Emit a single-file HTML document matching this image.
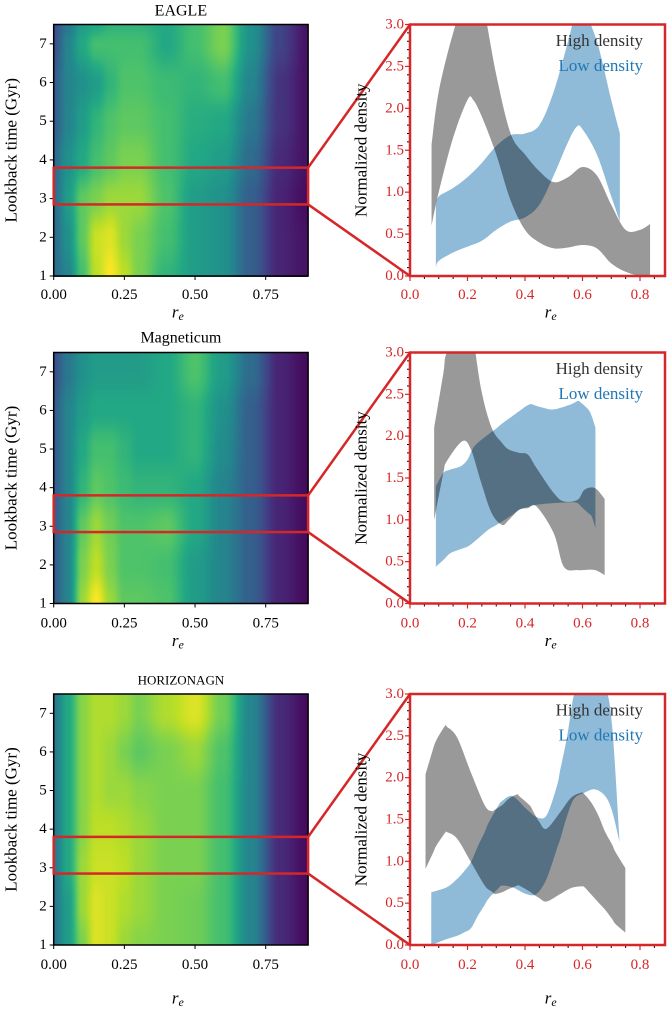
<!DOCTYPE html>
<html><head><meta charset="utf-8"><style>
body{margin:0;background:#fff;}
#wrap{position:relative;width:667px;height:1009px;overflow:hidden;font-family:"Liberation Serif",serif;}
canvas{position:absolute;}
svg{position:absolute;left:0;top:0;font-family:"Liberation Serif",serif;}
svg text{font-family:"Liberation Serif",serif;}
</style></head><body>
<div id="wrap">
<canvas id="h0"></canvas>
<canvas id="h1"></canvas>
<canvas id="h2"></canvas>
<svg id="svg" width="667" height="1009" xmlns="http://www.w3.org/2000/svg" font-family="Liberation Serif, serif"></svg>
</div>
<script>
// ---- data ----
const titles = ["EAGLE","Magneticum","HORIZONAGN"];
const heatCols = [0,0.05,0.1,0.15,0.2,0.25,0.3,0.4,0.5,0.6,0.7,0.8,0.9];
const heatRows = [1,2,3,4,5,6,7,7.5];
const heatEagle = [
[0.35,0.45,0.7,0.9,1.0,0.9,0.8,0.65,0.55,0.5,0.3,0.1,0.05],
[0.35,0.5,0.75,0.92,0.95,0.85,0.8,0.7,0.55,0.5,0.3,0.1,0.05],
[0.35,0.55,0.75,0.8,0.85,0.85,0.85,0.72,0.55,0.5,0.3,0.1,0.03],
[0.35,0.5,0.6,0.7,0.75,0.8,0.8,0.7,0.6,0.55,0.35,0.12,0.05],
[0.3,0.45,0.55,0.65,0.72,0.75,0.75,0.7,0.62,0.6,0.4,0.15,0.05],
[0.3,0.45,0.5,0.55,0.65,0.72,0.72,0.68,0.65,0.7,0.45,0.15,0.05],
[0.25,0.45,0.6,0.7,0.7,0.7,0.7,0.6,0.7,0.8,0.5,0.2,0.05],
[0.25,0.4,0.55,0.6,0.65,0.65,0.65,0.6,0.7,0.8,0.5,0.2,0.05]];
const heatMagneticum = [
[0.3,0.45,0.85,1.0,0.85,0.75,0.75,0.72,0.55,0.45,0.3,0.1,0.03],
[0.3,0.45,0.8,0.9,0.8,0.72,0.72,0.7,0.55,0.45,0.3,0.1,0.03],
[0.3,0.45,0.75,0.85,0.78,0.72,0.72,0.75,0.6,0.45,0.3,0.1,0.03],
[0.3,0.45,0.65,0.75,0.72,0.68,0.65,0.65,0.6,0.45,0.3,0.1,0.03],
[0.3,0.45,0.6,0.7,0.7,0.65,0.6,0.6,0.65,0.48,0.3,0.1,0.03],
[0.3,0.45,0.55,0.6,0.6,0.6,0.6,0.6,0.65,0.5,0.3,0.1,0.03],
[0.25,0.4,0.5,0.55,0.55,0.55,0.55,0.6,0.72,0.55,0.35,0.1,0.03],
[0.25,0.4,0.5,0.55,0.55,0.55,0.55,0.6,0.72,0.55,0.35,0.1,0.03]];
const heatHorizon = [
[0.4,0.55,0.8,0.95,0.92,0.85,0.82,0.8,0.78,0.7,0.45,0.12,0.03],
[0.4,0.55,0.85,0.95,0.92,0.88,0.85,0.8,0.78,0.7,0.45,0.12,0.03],
[0.4,0.6,0.85,0.92,0.92,0.9,0.85,0.8,0.8,0.7,0.45,0.12,0.03],
[0.4,0.6,0.82,0.9,0.9,0.88,0.85,0.8,0.8,0.7,0.45,0.12,0.03],
[0.4,0.6,0.82,0.88,0.85,0.85,0.82,0.8,0.8,0.7,0.45,0.12,0.03],
[0.4,0.6,0.82,0.88,0.85,0.8,0.75,0.8,0.85,0.72,0.45,0.12,0.03],
[0.4,0.6,0.82,0.88,0.88,0.85,0.8,0.88,0.95,0.78,0.45,0.12,0.03],
[0.4,0.6,0.82,0.88,0.88,0.85,0.8,0.88,0.95,0.78,0.45,0.12,0.03]];
const heatData = [heatEagle, heatMagneticum, heatHorizon];

// density bands: [x, lower, upper]
const highEagle = [[0.075,0.6,1.57],[0.1,1.0,2.2],[0.15,1.65,2.9],[0.2,2.1,3.4],[0.22,2.1,3.4],[0.25,1.9,3.3],[0.3,1.45,2.4],[0.35,0.9,1.7],[0.4,0.55,1.45],[0.45,0.4,1.25],[0.5,0.33,1.12],[0.55,0.34,1.18],[0.6,0.37,1.3],[0.65,0.33,1.2],[0.7,0.15,0.85],[0.75,0.05,0.55],[0.8,0.0,0.55],[0.835,0.0,0.62]];
const lowEagle = [[0.09,0.1,0.85],[0.1,0.18,0.95],[0.15,0.28,1.05],[0.2,0.35,1.18],[0.25,0.42,1.35],[0.3,0.55,1.55],[0.35,0.65,1.68],[0.4,0.7,1.7],[0.45,0.85,1.8],[0.5,1.2,2.2],[0.55,1.6,2.8],[0.58,1.78,3.2],[0.6,1.75,3.2],[0.65,1.45,2.8],[0.7,0.95,2.1],[0.73,0.65,1.7]];
const highMagneticum = [[0.084,1.0,2.1],[0.116,1.56,2.75],[0.128,1.7,3.0],[0.182,1.94,3.3],[0.212,1.84,3.3],[0.248,1.44,2.55],[0.284,1.08,2.1],[0.32,0.94,1.92],[0.344,1.0,1.84],[0.38,1.12,1.8],[0.41,1.14,1.78],[0.44,1.16,1.62],[0.5,0.84,1.32],[0.535,0.44,1.22],[0.583,0.4,1.24],[0.607,0.4,1.36],[0.643,0.4,1.38],[0.677,0.34,1.25]];
const lowMagneticum = [[0.09,0.44,1.4],[0.116,0.52,1.56],[0.14,0.6,1.6],[0.176,0.65,1.64],[0.2,0.68,1.72],[0.224,0.74,1.88],[0.272,0.88,2.02],[0.296,0.93,2.08],[0.32,0.98,2.15],[0.356,1.06,2.24],[0.38,1.12,2.3],[0.416,1.16,2.38],[0.44,1.18,2.36],[0.463,1.19,2.34],[0.5,1.2,2.32],[0.56,1.21,2.38],[0.583,1.2,2.42],[0.595,1.16,2.4],[0.62,1.08,2.32],[0.632,1.04,2.24],[0.645,0.9,2.1]];
const highHorizon = [[0.054,0.91,2.04],[0.08,1.1,2.34],[0.092,1.19,2.45],[0.122,1.34,2.62],[0.128,1.35,2.61],[0.164,1.27,2.48],[0.212,0.99,2.06],[0.26,0.71,1.67],[0.284,0.64,1.6],[0.296,0.61,1.62],[0.32,0.63,1.67],[0.344,0.67,1.75],[0.373,0.71,1.8],[0.38,0.71,1.78],[0.416,0.64,1.67],[0.428,0.61,1.6],[0.45,0.56,1.47],[0.475,0.52,1.39],[0.523,0.61,1.59],[0.56,0.68,1.76],[0.595,0.7,1.82],[0.607,0.69,1.8],[0.631,0.6,1.7],[0.655,0.51,1.55],[0.679,0.42,1.35],[0.703,0.31,1.2],[0.715,0.25,1.11],[0.749,0.15,0.92]];
const lowHorizon = [[0.074,0.0,0.63],[0.128,0.07,0.69],[0.164,0.11,0.79],[0.188,0.15,0.88],[0.212,0.2,0.99],[0.236,0.35,1.18],[0.26,0.48,1.35],[0.272,0.55,1.45],[0.308,0.68,1.67],[0.32,0.71,1.72],[0.356,0.69,1.78],[0.404,0.61,1.63],[0.44,0.61,1.53],[0.475,0.79,1.55],[0.511,1.15,1.9],[0.523,1.27,2.1],[0.547,1.55,2.5],[0.571,1.75,3.0],[0.607,1.82,3.3],[0.643,1.86,3.3],[0.679,1.78,3.1],[0.703,1.6,2.62],[0.729,1.23,1.23]];
const highBands = [highEagle, highMagneticum, highHorizon];
const lowBands = [lowEagle, lowMagneticum, lowHorizon];
const zoomLo = 2.85, zoomHi = 3.8;
const heatXTicks = [0,0.25,0.5,0.75];
const heatXTickLabels = ["0.00","0.25","0.50","0.75"];
const heatYTicks = [1,2,3,4,5,6,7];
const denXTicks = [0,0.2,0.4,0.6,0.8];
const denXTickLabels = ["0.0","0.2","0.4","0.6","0.8"];
const denYTicks = [0,0.5,1,1.5,2,2.5,3];
const denYTickLabels = ["0.0","0.5","1.0","1.5","2.0","2.5","3.0"];

// ---- layout ----
const rows = [{T:24.5,B:276,tk:19,lb:36,tt:11},{T:352.5,B:603.5,tk:20,lb:37,tt:338},{T:694,B:945,tk:20,lb:53,tt:680}];
const HX0=53.7, HX1=308.1, DX0=410, DXs=287.5;
const RED="#d62728";
const FONT="Liberation Serif, serif";
const hx = v => HX0 + v/0.9*(HX1-HX0);
const dx = v => DX0 + v*DXs;
const NS="http://www.w3.org/2000/svg";
const svg=document.getElementById('svg');
function el(tag, attrs, parent){const e=document.createElementNS(NS,tag);for(const k in attrs)e.setAttribute(k,attrs[k]);(parent||svg).appendChild(e);return e;}
function txt(s, attrs, parent){attrs['font-family']=FONT;const e=el('text',attrs,parent);e.textContent=s;return e;}

// viridis
const vir=[[68,1,84],[72,36,117],[65,68,135],[53,95,141],[42,120,142],[33,145,140],[34,168,132],[68,191,112],[122,209,81],[189,223,38],[253,231,37]];
function vcol(t){t=Math.max(0,Math.min(1,t))*10;const i=Math.min(9,Math.floor(t)),f=t-i;return vir[i].map((c,k)=>c+(vir[i+1][k]-c)*f);}
function sm(f){return f*f*(3-2*f);}
function interp(arr, v){let i=0;while(i<arr.length-2&&v>arr[i+1])i++;let f=(v-arr[i])/(arr[i+1]-arr[i]);f=Math.max(0,Math.min(1,f));return [i,sm(f)];}

function smoothPath(pts){
  let d="M"+pts[0][0]+","+pts[0][1];
  for(let i=0;i<pts.length-1;i++){
    const p0=pts[Math.max(0,i-1)],p1=pts[i],p2=pts[i+1],p3=pts[Math.min(pts.length-1,i+2)];
    const c1=[p1[0]+(p2[0]-p0[0])/6,p1[1]+(p2[1]-p0[1])/6];
    const c2=[p2[0]-(p3[0]-p1[0])/6,p2[1]-(p3[1]-p1[1])/6];
    d+=" C"+c1[0].toFixed(2)+","+c1[1].toFixed(2)+" "+c2[0].toFixed(2)+","+c2[1].toFixed(2)+" "+p2[0].toFixed(2)+","+p2[1].toFixed(2);
  }
  return d;
}

rows.forEach((r,ri)=>{
  const hy = v => r.B - (v-1)/6.5*(r.B-r.T);
  const dy = v => r.B - v/3*(r.B-r.T);
  const cv=document.getElementById('h'+ri);
  const W=Math.round(HX1-HX0), H=Math.round(r.B-r.T);
  cv.width=W;cv.height=H;cv.style.left=HX0+"px";cv.style.top=r.T+"px";
  const ctx=cv.getContext('2d');const img=ctx.createImageData(W,H);const G=heatData[ri];
  for(let py=0;py<H;py++){const t=7.5-(py+0.5)/H*6.5;const [j,fy]=interp(heatRows,t);
    for(let px=0;px<W;px++){const x=(px+0.5)/W*0.9;const [i,fx]=interp(heatCols,x);
      const v=(G[j][i]*(1-fx)+G[j][i+1]*fx)*(1-fy)+(G[j+1][i]*(1-fx)+G[j+1][i+1]*fx)*fy;
      const c=vcol(v);const o=(py*W+px)*4;img.data[o]=c[0];img.data[o+1]=c[1];img.data[o+2]=c[2];img.data[o+3]=255;}}
  ctx.putImageData(img,0,0);

  const g=el('g',{});
  
  
  const tEl=txt(titles[ri],{x:(HX0+HX1)/2,y:r.tt,'text-anchor':'middle','dominant-baseline':'central','font-size':ri==2?13:16,fill:'#000'},g);
  
  
  const fr=el('rect',{x:HX0,y:r.T,width:HX1-HX0,height:r.B-r.T,fill:'none',stroke:'#000','stroke-width':1.5},g);
  
  
  heatXTicks.forEach((v,k)=>{
    el('line',{x1:hx(v),x2:hx(v),y1:r.B,y2:r.B+4,stroke:'#000','stroke-width':1},g);
    const t=txt(heatXTickLabels[k],{x:hx(v),y:r.B+r.tk,'text-anchor':'middle','dominant-baseline':'central','font-size':15},g);
    
    
  });
  heatYTicks.forEach(v=>{
    el('line',{x1:HX0-4,x2:HX0,y1:hy(v),y2:hy(v),stroke:'#000','stroke-width':1},g);
    const t=txt(String(v),{x:HX0-7,y:hy(v),'text-anchor':'end','dominant-baseline':'central','font-size':15},g);
    
    
  });
  const xl=txt('r',{x:(HX0+HX1)/2-3,y:r.B+r.lb,'text-anchor':'middle','dominant-baseline':'central','font-size':17,'font-style':'italic'},g);
  el('tspan',{'font-size':12,dy:4},xl).textContent='e';
  
  
  const yl=txt('Lookback time (Gyr)',{x:0,y:0,transform:`translate(11,${(r.T+r.B)/2}) rotate(-90)`,'text-anchor':'middle','dominant-baseline':'central','font-size':17},g);
  
  
  const zb=el('rect',{x:HX0,y:hy(zoomHi),width:HX1-HX0,height:hy(zoomLo)-hy(zoomHi),fill:'none',stroke:RED,'stroke-width':2.5},g);
  
  
  const c1=el('line',{x1:HX1,y1:hy(zoomHi),x2:DX0,y2:r.T,stroke:RED,'stroke-width':2.5},g);
  
  
  const c2=el('line',{x1:HX1,y1:hy(zoomLo),x2:DX0,y2:r.B,stroke:RED,'stroke-width':2.5},g);
  
  

  const cp=el('clipPath',{id:'cp'+ri},g);
  el('rect',{x:DX0,y:r.T,width:300,height:r.B-r.T},cp);
  const band=(data,fill,name)=>{
    const up=data.map(p=>[dx(p[0]),dy(p[2])]);
    const lo=data.map(p=>[dx(p[0]),dy(p[1])]).reverse();
    const lp=smoothPath(lo);
    const d=smoothPath(up)+" L"+lo[0][0]+","+lo[0][1]+lp.slice(lp.indexOf(' C'))+" Z";
    const p=el('path',{d:d,fill:fill,'clip-path':`url(#cp${ri})`},g);
    
    
  };
  band(lowBands[ri],'rgba(31,119,180,0.5)','low-density-band');
  band(highBands[ri],'rgba(0,0,0,0.4)','high-density-band');
  for(let v=0.05;v<0.9;v+=0.05){if(Math.abs(v/0.2-Math.round(v/0.2))<0.01)continue;
    el('line',{x1:dx(v),x2:dx(v),y1:r.B,y2:r.B+3,stroke:'#000','stroke-width':1},g);}
  for(let k=1;k<30;k++){if(k%5==0)continue;const v=k/10;
    el('line',{x1:DX0-3,x2:DX0,y1:dy(v),y2:dy(v),stroke:'#000','stroke-width':1},g);}
  denXTicks.forEach((v,k)=>{
    el('line',{x1:dx(v),x2:dx(v),y1:r.B,y2:r.B+5,stroke:RED,'stroke-width':1.2},g);
    const t=txt(denXTickLabels[k],{x:dx(v),y:r.B+r.tk,'text-anchor':'middle','dominant-baseline':'central','font-size':15,fill:RED},g);
    
    
  });
  denYTicks.forEach((v,k)=>{
    el('line',{x1:DX0-5,x2:DX0,y1:dy(v),y2:dy(v),stroke:RED,'stroke-width':1.2},g);
    const t=txt(denYTickLabels[k],{x:DX0-6,y:dy(v),'text-anchor':'end','dominant-baseline':'central','font-size':15,fill:RED},g);
    
    
  });
  const df=el('rect',{x:DX0,y:r.T,width:665-DX0,height:r.B-r.T,fill:'none',stroke:RED,'stroke-width':2.5},g);
  
  
  const xl2=txt('r',{x:dx(0.5)-3,y:r.B+r.lb,'text-anchor':'middle','dominant-baseline':'central','font-size':17,'font-style':'italic'},g);
  el('tspan',{'font-size':12,dy:4},xl2).textContent='e';
  
  
  const yl2=txt('Normalized density',{x:0,y:0,transform:`translate(361,${(r.T+r.B)/2}) rotate(-90)`,'text-anchor':'middle','dominant-baseline':'central','font-size':17},g);
  
  
  const lg1=txt('High density',{x:643,y:r.T+16,'text-anchor':'end','dominant-baseline':'central','font-size':17,fill:'#333'},g);
  
  
  const lg2=txt('Low density',{x:643,y:r.T+41,'text-anchor':'end','dominant-baseline':'central','font-size':17,fill:'#1f77b4'},g);
  
  
});
</script>
</body></html>
